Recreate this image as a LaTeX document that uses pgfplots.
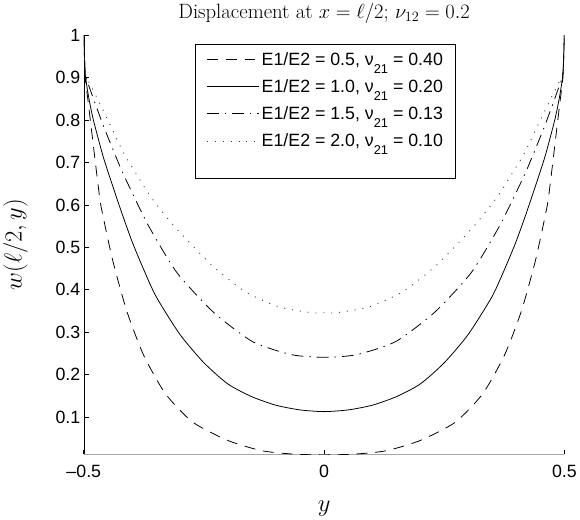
\documentclass[border=0pt]{standalone}
\usepackage{fontspec}
\newfontfamily\arial{Liberation Sans}
\usepackage{pgfplots}
\pgfplotsset{compat=1.18}
\newcommand\sub[1]{\raisebox{-0.45em}{\fontsize{13}{13}\selectfont #1}}
\begin{document}
\begin{tikzpicture}
\begin{axis}[
  scale only axis, width=487pt, height=425pt,
  xmin=-0.5, xmax=0.5, ymin=0.012, ymax=1,
  axis x line=bottom, axis y line=left,
  axis line style={-},
  x axis line style={gray!70, line width=1.2pt},
  tick align=inside, major tick length=5pt,
  tick style={black, line width=0.6pt},
  xtick={-0.5,0,0.5}, xticklabels={–0.5,0,0.5},
  ytick={0.1,0.2,0.3,0.4,0.5,0.6,0.7,0.8,0.9,1},
  yticklabels={0.1,0.2,0.3,0.4,0.5,0.6,0.7,0.8,0.9,1},
  ticklabel style={font=\arial\fontsize{18}{18}\selectfont},
  xticklabel style={yshift=-7pt},
  xlabel={$y$}, ylabel={$w(\ell/2,y)$},
  label style={font=\fontsize{24}{24}\selectfont},
  xlabel style={at={(axis description cs:0.5,-0.13)}, anchor=center},
  ylabel style={at={(axis description cs:-0.142,0.5)}, anchor=center},
  title={Displacement at $x=\ell/2$; $\nu_{12}=0.2$},
  title style={font=\fontsize{21}{21}\selectfont, yshift=2pt},
  legend style={at={(0.232,0.979)}, anchor=north west, draw=black, line width=0.9pt,
    font=\arial\fontsize{18}{20}\selectfont, row sep=9pt, inner xsep=11pt, inner ysep=6pt},
  legend cell align=left,
  legend image code/.code={\draw[#1] (0pt,0pt) -- (53pt,0pt);},
]
% E1/E2 = 0.5
\addplot[black, line width=0.8pt, dash pattern=on 11pt off 8pt, smooth, tension=0.4] coordinates {
(-0.5,1.0)(-0.497,0.90)(-0.491,0.844)(-0.478,0.72)(-0.47,0.645)(-0.464,0.596)(-0.44,0.47)
(-0.41,0.348)(-0.375,0.245)(-0.33,0.155)(-0.273,0.088)(-0.2,0.045)(-0.13,0.021)(-0.065,0.013)
(0,0.011)
(0.065,0.013)(0.13,0.021)(0.2,0.045)(0.273,0.088)(0.33,0.155)(0.375,0.245)(0.41,0.348)
(0.44,0.47)(0.464,0.596)(0.47,0.645)(0.478,0.72)(0.491,0.844)(0.497,0.90)(0.5,1.0)};
\addlegendentry{E1/E2 = 0.5, ν\sub{21} = 0.40}
% E1/E2 = 1.0
\addplot[black, line width=0.8pt, smooth, tension=0.4] coordinates {
(-0.5,1.0)(-0.497,0.91)(-0.49,0.855)(-0.48,0.80)(-0.46,0.715)(-0.44,0.645)(-0.42,0.578)
(-0.40,0.515)(-0.38,0.46)(-0.35,0.385)(-0.30,0.295)(-0.25,0.228)(-0.20,0.178)(-0.15,0.148)
(-0.10,0.128)(-0.05,0.117)(0,0.113)
(0.05,0.117)(0.10,0.128)(0.15,0.148)(0.20,0.178)(0.25,0.228)(0.30,0.295)(0.35,0.385)
(0.38,0.46)(0.40,0.515)(0.42,0.578)(0.44,0.645)(0.46,0.715)(0.48,0.80)(0.49,0.855)
(0.497,0.91)(0.5,1.0)};
\addlegendentry{E1/E2 = 1.0, ν\sub{21} = 0.20}
% E1/E2 = 1.5
\addplot[black, line width=0.8pt, dash pattern=on 12pt off 6pt on 1.5pt off 6pt, smooth, tension=0.4] coordinates {
(-0.5,1.0)(-0.497,0.91)(-0.4846,0.865)(-0.457,0.78)(-0.423,0.686)(-0.4025,0.636)(-0.382,0.588)
(-0.361,0.542)(-0.3066,0.441)(-0.231,0.348)(-0.149,0.278)(-0.067,0.247)(0,0.241)
(0.067,0.247)(0.149,0.278)(0.231,0.348)(0.3066,0.441)(0.361,0.542)(0.382,0.588)
(0.4025,0.636)(0.423,0.686)(0.457,0.78)(0.4846,0.865)(0.497,0.91)(0.5,1.0)};
\addlegendentry{E1/E2 = 1.5, ν\sub{21} = 0.13}
% E1/E2 = 2.0
\addplot[black!75, line width=0.9pt, dash pattern=on 1pt off 7pt, smooth, tension=0.4] coordinates {
(-0.5,1.0)(-0.497,0.91)(-0.4846,0.88)(-0.45,0.80)(-0.416,0.72)(-0.39,0.672)(-0.37,0.635)
(-0.3546,0.61)(-0.334,0.58)(-0.30,0.535)(-0.231,0.455)(-0.163,0.395)(-0.0945,0.36)(-0.026,0.346)
(0,0.346)
(0.026,0.346)(0.0945,0.36)(0.163,0.395)(0.231,0.455)(0.30,0.535)(0.334,0.58)(0.3546,0.61)
(0.37,0.635)(0.39,0.672)(0.416,0.72)(0.45,0.80)(0.4846,0.88)(0.497,0.91)(0.5,1.0)};
\addlegendentry{E1/E2 = 2.0, ν\sub{21} = 0.10}
\addlegendimage{empty legend}
\addlegendentry{\rule{0pt}{8pt}}
\end{axis}
\end{tikzpicture}
\end{document}
